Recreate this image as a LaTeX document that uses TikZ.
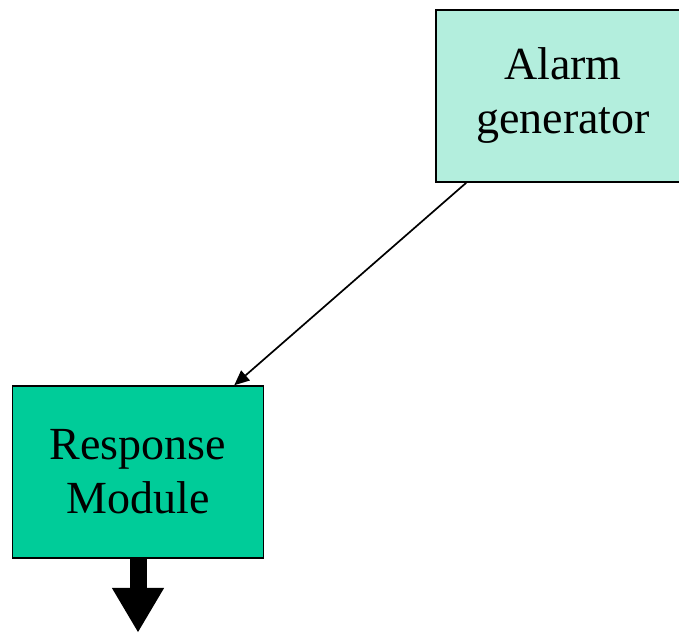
\documentclass[tikz,border=0pt]{standalone}
\usepackage{fontspec}
\setmainfont{Liberation Serif}
\usetikzlibrary{arrows.meta}
\definecolor{alarmfill}{HTML}{B3EEDD}
\definecolor{respfill}{HTML}{00CC99}
\tikzset{
  modbox/.style={draw=black, line width=1.5pt, rectangle, align=center,
    font=\fontsize{46}{54}\selectfont, inner sep=0pt},
}
\begin{document}
\begin{tikzpicture}[x=1pt,y=-1pt]
  \useasboundingbox (0,0) rectangle (679,632);
  % modules
  \node[modbox, fill=alarmfill, minimum width=254pt, minimum height=172pt]
    (alarm) at (563,96) {Alarm\\generator};
  \node[modbox, fill=respfill, minimum width=251pt, minimum height=172pt]
    (resp) at (138,472) {Response\\Module};
  % alarm feeds the response module
  \draw[line width=1.7pt, -{Triangle[length=15pt,width=13pt]}]
    ([xshift=31pt]alarm.south west) -- ([xshift=-30pt]resp.north east);
  % output of the response module
  \coordinate (out) at ([yshift=-74pt]resp.south);
  \draw[line width=17pt, -{Triangle[length=45pt,width=49pt]}]
    (resp.south) -- (out);
\end{tikzpicture}
\end{document}
